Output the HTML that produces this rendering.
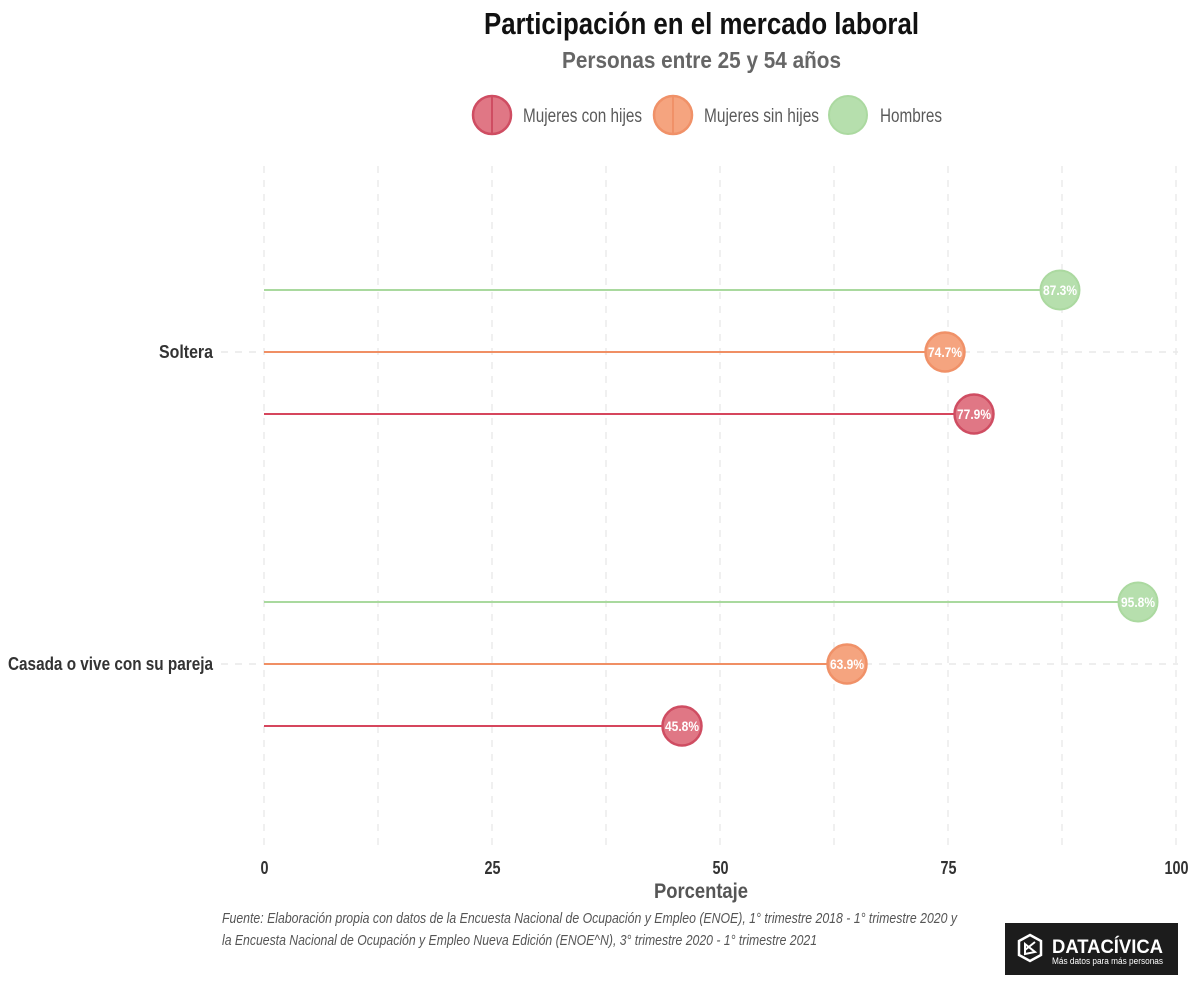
<!DOCTYPE html>
<html><head><meta charset="utf-8"><style>
html,body{margin:0;padding:0;background:#fff;}
svg{display:block;}
text{font-family:"Liberation Sans Narrow","Liberation Sans",sans-serif;}
</style></head><body>
<svg width="1200" height="985" viewBox="0 0 1200 985" xmlns="http://www.w3.org/2000/svg">
<rect width="1200" height="985" fill="#fff"/>
<!-- Title -->
<text x="701.5" y="34" text-anchor="middle" font-size="31" font-weight="bold" fill="#111" textLength="435" lengthAdjust="spacingAndGlyphs">Participación en el mercado laboral</text>
<text x="701.5" y="68" text-anchor="middle" font-size="23" font-weight="bold" fill="#666" textLength="279" lengthAdjust="spacingAndGlyphs">Personas entre 25 y 54 años</text>
<!-- Legend -->
<g>
<circle cx="492" cy="115" r="19" fill="#e07785" stroke="#cf4d62" stroke-width="2.5"/>
<line x1="492" y1="96" x2="492" y2="134" stroke="#cf4d62" stroke-width="2"/>
<text x="523" y="122" font-size="19" fill="#5a5a5a" textLength="119" lengthAdjust="spacingAndGlyphs">Mujeres con hijes</text>
<circle cx="673" cy="115" r="19" fill="#f5a47f" stroke="#f09168" stroke-width="2.5"/>
<line x1="673" y1="96" x2="673" y2="134" stroke="#f09168" stroke-width="2"/>
<text x="704" y="122" font-size="19" fill="#5a5a5a" textLength="115" lengthAdjust="spacingAndGlyphs">Mujeres sin hijes</text>
<circle cx="848" cy="115" r="19" fill="#b6dfad" stroke="#abd9a0" stroke-width="2"/>
<text x="880" y="122" font-size="19" fill="#5a5a5a" textLength="62" lengthAdjust="spacingAndGlyphs">Hombres</text>
</g>
<!-- Grid -->
<g stroke="#e9e9e9" stroke-width="1.4" stroke-dasharray="7,7" fill="none">
<line x1="264" y1="166" x2="264" y2="850"/>
<line x1="378" y1="166" x2="378" y2="850"/>
<line x1="492" y1="166" x2="492" y2="850"/>
<line x1="606" y1="166" x2="606" y2="850"/>
<line x1="720" y1="166" x2="720" y2="850"/>
<line x1="834" y1="166" x2="834" y2="850"/>
<line x1="948" y1="166" x2="948" y2="850"/>
<line x1="1062" y1="166" x2="1062" y2="850"/>
<line x1="1176" y1="166" x2="1176" y2="850"/>
<line x1="221" y1="352" x2="1178" y2="352"/>
<line x1="221" y1="664" x2="1178" y2="664"/>
</g>
<!-- Y labels -->
<text x="213" y="358" text-anchor="end" font-size="18" font-weight="bold" fill="#333" textLength="54" lengthAdjust="spacingAndGlyphs">Soltera</text>
<text x="213" y="670" text-anchor="end" font-size="18" font-weight="bold" fill="#333" textLength="205" lengthAdjust="spacingAndGlyphs">Casada o vive con su pareja</text>
<!-- Lines -->
<g stroke-width="2">
<line x1="264" y1="290" x2="1060" y2="290" stroke="#a9d99e"/>
<line x1="264" y1="352" x2="945" y2="352" stroke="#f08f64"/>
<line x1="264" y1="414" x2="974" y2="414" stroke="#d6465d"/>
<line x1="264" y1="602" x2="1138" y2="602" stroke="#a9d99e"/>
<line x1="264" y1="664" x2="847" y2="664" stroke="#f08f64"/>
<line x1="264" y1="726" x2="682" y2="726" stroke="#d6465d"/>
</g>
<!-- Points -->
<g>
<circle cx="1060" cy="290" r="19.5" fill="#b6dfad" stroke="#abd9a0" stroke-width="2"/>
<circle cx="945" cy="352" r="19.5" fill="#f5a47f" stroke="#f09168" stroke-width="2.5"/>
<circle cx="974" cy="414" r="19.5" fill="#e07785" stroke="#cf4d62" stroke-width="2.5"/>
<circle cx="1138" cy="602" r="19.5" fill="#b6dfad" stroke="#abd9a0" stroke-width="2"/>
<circle cx="847" cy="664" r="19.5" fill="#f5a47f" stroke="#f09168" stroke-width="2.5"/>
<circle cx="682" cy="726" r="19.5" fill="#e07785" stroke="#cf4d62" stroke-width="2.5"/>
</g>
<g font-size="14" font-weight="bold" fill="#fff" text-anchor="middle">
<text x="1060" y="295" textLength="34" lengthAdjust="spacingAndGlyphs">87.3%</text>
<text x="945" y="357" textLength="34" lengthAdjust="spacingAndGlyphs">74.7%</text>
<text x="974" y="419" textLength="34" lengthAdjust="spacingAndGlyphs">77.9%</text>
<text x="1138" y="607" textLength="34" lengthAdjust="spacingAndGlyphs">95.8%</text>
<text x="847" y="669" textLength="34" lengthAdjust="spacingAndGlyphs">63.9%</text>
<text x="682" y="731" textLength="34" lengthAdjust="spacingAndGlyphs">45.8%</text>
</g>
<!-- X ticks -->
<g font-size="18" font-weight="bold" fill="#333" text-anchor="middle">
<text x="264.5" y="874" textLength="8" lengthAdjust="spacingAndGlyphs">0</text>
<text x="492.5" y="874" textLength="16" lengthAdjust="spacingAndGlyphs">25</text>
<text x="720.5" y="874" textLength="16" lengthAdjust="spacingAndGlyphs">50</text>
<text x="948.5" y="874" textLength="16" lengthAdjust="spacingAndGlyphs">75</text>
<text x="1176.5" y="874" textLength="24" lengthAdjust="spacingAndGlyphs">100</text>
</g>
<text x="701" y="898" text-anchor="middle" font-size="21" font-weight="bold" fill="#555" textLength="94" lengthAdjust="spacingAndGlyphs">Porcentaje</text>
<!-- Caption -->
<g font-size="15" font-style="italic" fill="#555">
<text x="222" y="923" textLength="735" lengthAdjust="spacingAndGlyphs">Fuente: Elaboración propia con datos de la Encuesta Nacional de Ocupación y Empleo (ENOE), 1° trimestre 2018 - 1° trimestre 2020 y</text>
<text x="222" y="945" textLength="595" lengthAdjust="spacingAndGlyphs">la Encuesta Nacional de Ocupación y Empleo Nueva Edición (ENOE^N), 3° trimestre 2020 - 1° trimestre 2021</text>
</g>
<!-- Logo -->
<rect x="1005" y="923" width="173" height="52" fill="#1c1c1c"/>
<polygon points="1030,935 1041,941 1041,955 1030,961 1019,955 1019,941" fill="none" stroke="#fff" stroke-width="2.5"/>
<path d="M1025,944 L1035,952 L1025,954 Z M1035,942 L1025,950" fill="none" stroke="#fff" stroke-width="2"/>
<text x="1052" y="953" font-size="19" font-weight="bold" fill="#fff" textLength="111" lengthAdjust="spacingAndGlyphs">DATACÍVICA</text>
<text x="1052" y="964" font-size="9" fill="#fff" textLength="111" lengthAdjust="spacingAndGlyphs">Más datos para más personas</text>
</svg>
</body></html>
